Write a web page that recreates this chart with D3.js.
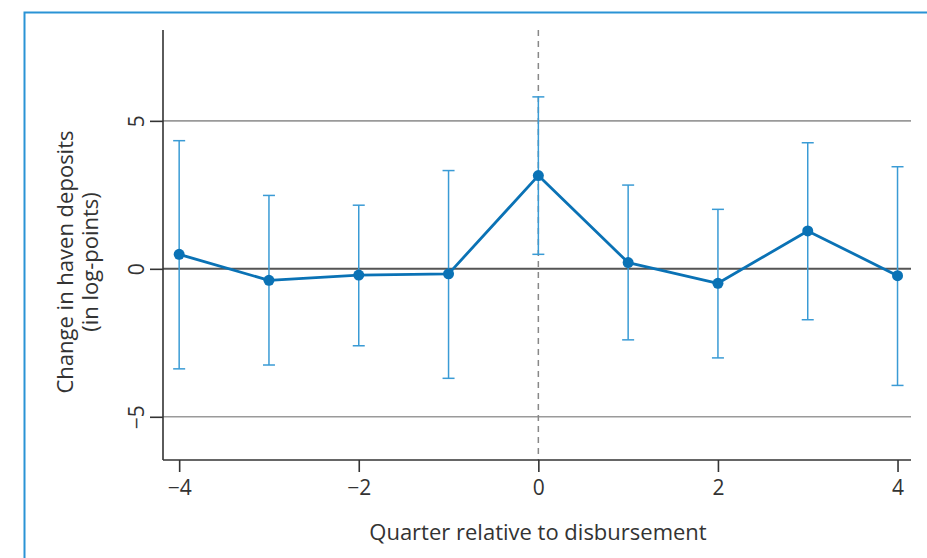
<!DOCTYPE html>
<html><head><meta charset="utf-8">
<script src="https://cdn.jsdelivr.net/npm/d3@7"></script>
<style>html,body{margin:0;padding:0;background:#fff;}svg{display:block;}</style>
</head><body>
<svg id="chart" width="927" height="558"></svg>
<script>
const quarters = [-4, -3, -2, -1, 0, 1, 2, 3, 4];
const estimates = [0.49, -0.39, -0.21, -0.17, 3.15, 0.21, -0.49, 1.28, -0.23];
const ciUpper = [4.33, 2.48, 2.15, 3.32, 5.81, 2.83, 2.01, 4.26, 3.45];
const ciLower = [-3.38, -3.25, -2.60, -3.70, 0.49, -2.40, -3.01, -1.72, -3.94];
const xTicks = [-4, -2, 0, 2, 4];
const yTicks = [-5, 0, 5];
const xTitle = "Quarter relative to disbursement";
const yTitle = ["Change in haven deposits", "(in log-points)"];

const svg = d3.select("#chart");
const font = "'Open Sans', sans-serif";
const textColor = "#333";
const x = d3.scaleLinear().domain([-4.18, 4.15]).range([163, 911]);
const y = d3.scaleLinear().domain([-6.46, 8.07]).range([460, 30]);

// frame
svg.append("path").attr("d", "M24.5,560 L24.5,12.5 L930,12.5")
  .attr("fill", "none").attr("stroke", "#2a93d5").attr("stroke-width", 2);

// grid lines
svg.append("g").selectAll("line").data(yTicks).join("line")
  .attr("x1", x.range()[0]).attr("x2", x.range()[1])
  .attr("y1", d => y(d)).attr("y2", d => y(d))
  .attr("stroke", d => d === 0 ? "#555" : "#9a9a9a")
  .attr("stroke-width", d => d === 0 ? 2 : 1.6);

// dashed vertical line at 0
svg.append("line").attr("x1", x(0)).attr("x2", x(0)).attr("y1", y.range()[1]).attr("y2", y.range()[0])
  .attr("stroke", "#888").attr("stroke-width", 1.5).attr("stroke-dasharray", "6,5");

// axes
const xAxis = d3.axisBottom(x).tickValues(xTicks).tickSize(12).tickPadding(8)
  .tickFormat(d => d < 0 ? "\u2212" + Math.abs(d) : d);
const gx = svg.append("g").attr("transform", `translate(0,${y.range()[0]})`).call(xAxis);
gx.select(".domain").attr("d", `M${x.range()[0]},0H${x.range()[1]}`).attr("stroke", "#333").attr("stroke-width", 1.6);
gx.selectAll(".tick line").attr("stroke", "#333").attr("stroke-width", 1.6);
gx.selectAll(".tick text").attr("font-family", font).attr("font-size", 21).attr("fill", textColor);

const yAxis = d3.axisLeft(y).tickValues(yTicks).tickSize(13).tickPadding(8)
  .tickFormat(d => d < 0 ? "\u2212" + Math.abs(d) : d);
const gy = svg.append("g").attr("transform", `translate(${x.range()[0]},0)`).call(yAxis);
gy.select(".domain").attr("d", `M0,${y.range()[1]}V${y.range()[0]}`).attr("stroke", "#333").attr("stroke-width", 1.6);
gy.selectAll(".tick line").attr("stroke", "#333").attr("stroke-width", 1.6);
gy.selectAll(".tick text").attr("font-family", font).attr("font-size", 21).attr("fill", textColor)
  .attr("text-anchor", "middle").attr("dy", 0).attr("dominant-baseline", "auto")
  .attr("transform", "translate(-27,0) rotate(-90)").attr("x", 0).attr("y", 8);

// error bars
const data = quarters.map((q, i) => ({q, e: estimates[i], hi: ciUpper[i], lo: ciLower[i]}));
const ebColor = "#3a9bd5";
const eb = svg.append("g");
eb.selectAll("line.v").data(data).join("line").attr("class", "v")
  .attr("x1", d => x(d.q)).attr("x2", d => x(d.q)).attr("y1", d => y(d.hi)).attr("y2", d => y(d.lo))
  .attr("stroke", ebColor).attr("stroke-width", 1.5);
eb.selectAll("line.t").data(data).join("line").attr("class", "t")
  .attr("x1", d => x(d.q) - 6).attr("x2", d => x(d.q) + 6).attr("y1", d => y(d.hi)).attr("y2", d => y(d.hi))
  .attr("stroke", ebColor).attr("stroke-width", 1.5);
eb.selectAll("line.b").data(data).join("line").attr("class", "b")
  .attr("x1", d => x(d.q) - 6).attr("x2", d => x(d.q) + 6).attr("y1", d => y(d.lo)).attr("y2", d => y(d.lo))
  .attr("stroke", ebColor).attr("stroke-width", 1.5);

// line + markers
const lineColor = "#0a72b5";
svg.append("path").datum(data)
  .attr("d", d3.line().x(d => x(d.q)).y(d => y(d.e)))
  .attr("fill", "none").attr("stroke", lineColor).attr("stroke-width", 2.8).attr("stroke-linejoin", "round");
svg.append("g").selectAll("circle").data(data).join("circle")
  .attr("cx", d => x(d.q)).attr("cy", d => y(d.e)).attr("r", 5.5).attr("fill", lineColor);

// titles
svg.append("text").attr("x", 538).attr("y", 540)
  .attr("text-anchor", "middle").attr("font-family", font).attr("font-size", 22).attr("fill", textColor)
  .text(xTitle);
const yt = svg.append("text").attr("transform", "translate(0,262) rotate(-90)")
  .attr("text-anchor", "middle").attr("font-family", font).attr("font-size", 22).attr("fill", textColor);
yt.append("tspan").attr("x", 0).attr("y", 73).text(yTitle[0]);
yt.append("tspan").attr("x", 0).attr("y", 98).text(yTitle[1]);
</script>
</body></html>
